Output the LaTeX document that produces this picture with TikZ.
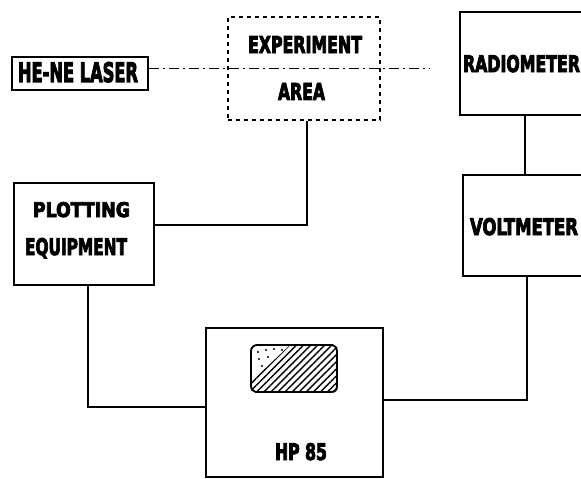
\documentclass[tikz,border=0pt]{standalone}
\usepackage{fontspec}
\usepackage{graphicx}
\newfontfamily\labfont{DejaVu Sans Condensed}[BoldFeatures={FakeBold=4}]
\usetikzlibrary{patterns,patterns.meta}
% place text: left edge dx, baseline dy (down) from node centre, width w, cap height h
\newcommand\puttext[5]{\makebox[0pt][l]{\hspace*{#1}\raisebox{-#2}[0pt][0pt]{\resizebox{#3}{#4}{\labfont\bfseries #5}}}}
\begin{document}
\begin{tikzpicture}[x=1pt,y=-1pt,
  box/.style={draw, line width=1.9pt, rectangle, inner sep=0pt},
  dbox/.style={box, line width=1.7pt, dash pattern=on 4pt off 4pt},
  wire/.style={line width=1.8pt},
  beam/.style={line width=1.9pt, dash pattern=on 10pt off 4pt on 2pt off 4pt}
]
\useasboundingbox (0,0) rectangle (581,479);
\fill[white] (0,0) rectangle (581,479);
% boxes
\node[box, minimum width=136, minimum height=33] (laser) at (80,73.5)
  {\puttext{-62pt}{8.5pt}{120pt}{20pt}{HE-NE LASER}};
\node[dbox, minimum width=152, minimum height=103] (exp) at (304,68.5)
  {\puttext{-56pt}{-15.5pt}{114pt}{17pt}{EXPERIMENT}\puttext{-26pt}{31.5pt}{47pt}{17pt}{AREA}};
\node[box, minimum width=140, minimum height=103] (rad) at (530,63.5)
  {\puttext{-67pt}{8.5pt}{117pt}{17pt}{RADIOMETER}};
\node[box, minimum width=137, minimum height=101] (volt) at (531.5,225.5)
  {\puttext{-61.5pt}{9.5pt}{108pt}{17pt}{VOLTMETER}};
\node[box, minimum width=140, minimum height=102] (plot) at (84,234)
  {\puttext{-51pt}{-17pt}{97pt}{15pt}{PLOTTING}\puttext{-59pt}{21pt}{102pt}{17pt}{EQUIPMENT}};
\node[box, minimum width=177, minimum height=149] (hp) at (294.5,402.5)
  {\puttext{-19.5pt}{57.5pt}{52pt}{17pt}{HP 85}};
% screen of the HP 85
\node[draw, line width=1.8pt, rounded corners=6pt, minimum width=86, minimum height=47, inner sep=0pt] (screen) at (294,368.5) {};
\begin{scope}
  \clip[rounded corners=6pt] (screen.south west) rectangle (screen.north east);
  \fill[pattern={Lines[angle=45,distance=5pt,line width=1.4pt]}]
    (screen.south west) -- (252,381) -- (290,345) -- (screen.north east) |- cycle;
\end{scope}
\foreach \px/\py in {258/352, 266/350, 274/349, 282/350, 259/359, 268/357, 262/366}
  \fill (\px,\py) circle (1.2pt);
% beam
\coordinate (beamend) at (430,68.5);
\draw[beam] (laser.east |- beamend) -- (beamend);
% wires
\draw[wire] ([xshift=3pt]exp.south) |- ([yshift=9pt]plot.east);
\draw[wire] ([xshift=-5pt]rad.south) -- ([xshift=-5pt]rad.south |- volt.north);
\draw[wire] ([xshift=-4.5pt]volt.south) |- ([yshift=2.5pt]hp.east);
\draw[wire] ([xshift=4pt]plot.south) |- ([yshift=-4.5pt]hp.west);
\end{tikzpicture}
\end{document}
